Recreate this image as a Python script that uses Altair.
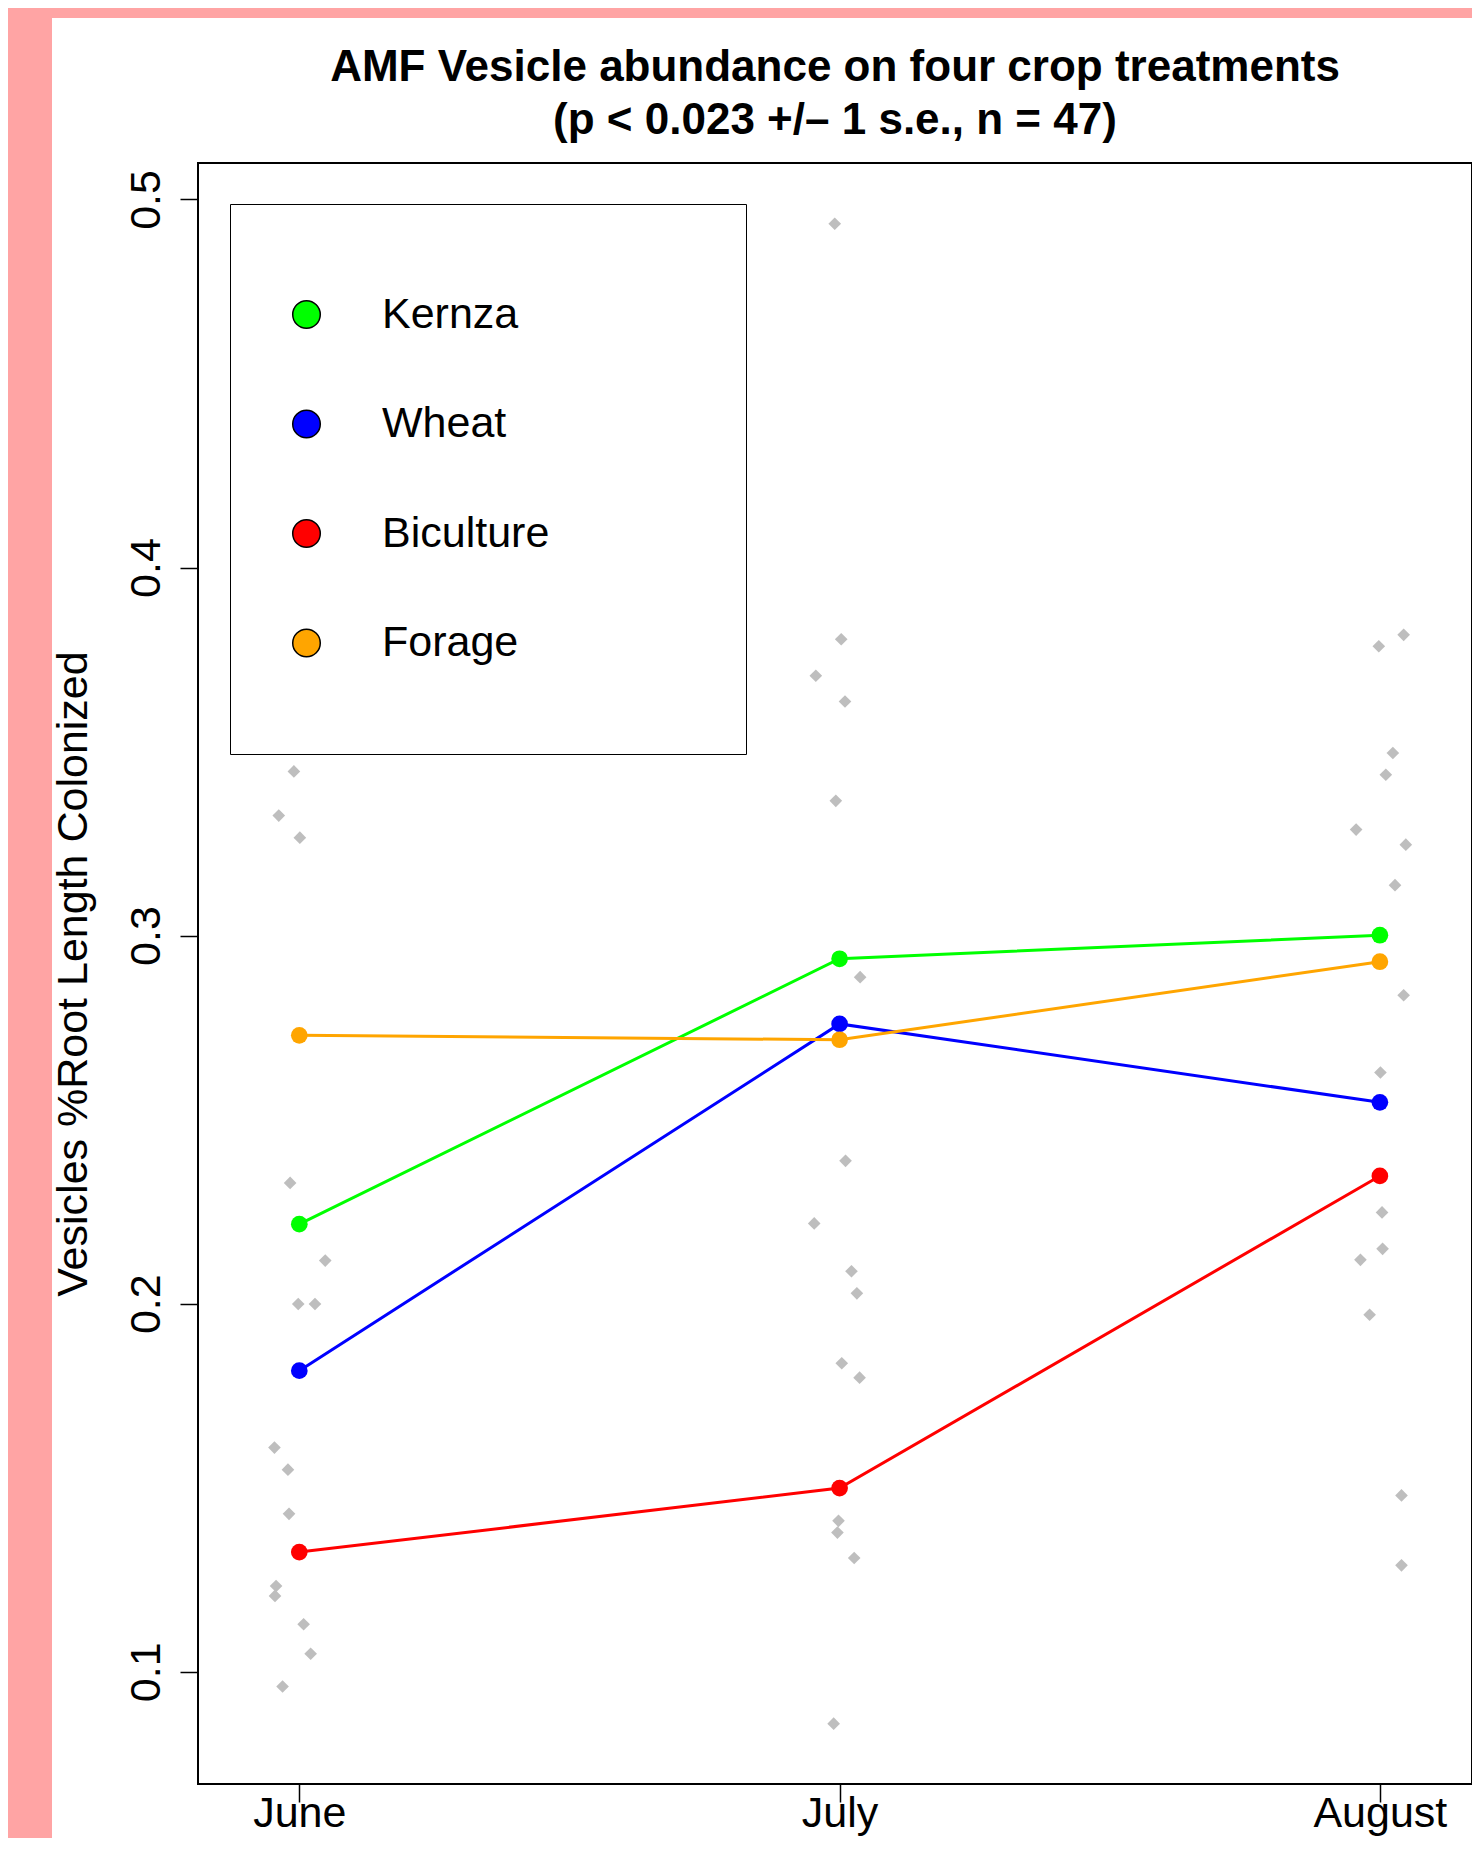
import json
import altair as alt
import pandas as pd

# ---------------- data ----------------
months = ["June", "July", "August"]
treatments = ["Kernza", "Wheat", "Biculture", "Forage"]
colors = ["#00FF00", "#0000FF", "#FF0000", "#FFA500"]

kernza_means = [0.2216, 0.2937, 0.3001]
wheat_means = [0.1818, 0.2760, 0.2547]
biculture_means = [0.1325, 0.1499, 0.2347]
forage_means = [0.2729, 0.2717, 0.2929]

june_vals = [0.3446, 0.3326, 0.3266, 0.2328, 0.2117, 0.1999, 0.1999, 0.1609,
             0.1549, 0.1429, 0.1233, 0.1206, 0.1129, 0.1049, 0.0960]
june_jitter = [-0.010, -0.038, 0.001, -0.017, 0.048, -0.002, 0.029, -0.046,
               -0.021, -0.019, -0.043, -0.045, 0.008, 0.021, -0.031]

july_vals = [0.4934, 0.3805, 0.3706, 0.3636, 0.3366, 0.2887, 0.2388, 0.2218,
             0.2088, 0.2028, 0.1838, 0.1799, 0.1410, 0.1378, 0.1309, 0.0859]
july_jitter = [-0.009, 0.003, -0.044, 0.010, -0.007, 0.038, 0.011, -0.047,
               0.022, 0.032, 0.004, 0.037, -0.002, -0.004, 0.027, -0.011]

aug_vals = [0.3817, 0.3786, 0.3496, 0.3437, 0.3288, 0.3247, 0.3137, 0.2838,
            0.2628, 0.2248, 0.2149, 0.2119, 0.1970, 0.1479, 0.1289]
aug_jitter = [0.044, -0.002, 0.024, 0.011, -0.044, 0.048, 0.028, 0.044,
              0.001, 0.004, 0.005, -0.036, -0.019, 0.040, 0.040]

y_ticks = [0.1, 0.2, 0.3, 0.4, 0.5]

title_lines = ["AMF Vesicle abundance on four crop treatments",
               "(p < 0.023 +/\u2013 1 s.e., n = 47)"]
y_title = "Vesicles %Root Length Colonized"

# ---------------- tables ----------------
mean_lists = [kernza_means, wheat_means, biculture_means, forage_means]
means_rows = []
for t, c, vals in zip(treatments, colors, mean_lists):
    for i, v in enumerate(vals):
        means_rows.append({"treatment": t, "col": c, "x": i + 1, "y": v})
means_df = pd.DataFrame(means_rows)

raw_rows = []
for i, (vals, jit) in enumerate([(june_vals, june_jitter),
                                 (july_vals, july_jitter),
                                 (aug_vals, aug_jitter)]):
    for v, j in zip(vals, jit):
        raw_rows.append({"x": i + 1 + j, "y": v})
raw_df = pd.DataFrame(raw_rows)

# ---------------- styling ----------------
W, H = 1274, 1621
FONT = "Liberation Sans"
FS = 43

x_scale = alt.Scale(domain=[0.8125, 3.1705], nice=False, zero=False)
y_scale = alt.Scale(domain=[0.0695, 0.5099], nice=False, zero=False)

x_axis = alt.Axis(values=[1, 2, 3],
                  labelExpr=f"{json.dumps(months)}[datum.value - 1]",
                  title=None, domain=False, grid=False,
                  tickSize=18, tickColor="black", tickWidth=1.5,
                  labelFont=FONT, labelFontSize=FS, labelColor="black",
                  labelBaseline="alphabetic", labelPadding=24,
                  labelFlush=False, labelOverlap=False, zindex=1)

y_axis = alt.Axis(values=y_ticks, format=".1f",
                  title=y_title, titleFont=FONT, titleFontSize=FS,
                  titleFontWeight="normal", titleColor="black",
                  titleAngle=270, titleX=-112, titleY=H / 2,
                  titleAlign="center", titleBaseline="alphabetic",
                  domain=False, grid=False,
                  tickSize=18, tickColor="black", tickWidth=1.5,
                  labelFont=FONT, labelFontSize=FS, labelColor="black",
                  labelAngle=270, labelAlign="center",
                  labelBaseline="alphabetic", labelPadding=21,
                  labelFlush=False, labelOverlap=False, zindex=1)

x_enc = alt.X("x:Q", scale=x_scale, axis=x_axis)
y_enc = alt.Y("y:Q", scale=y_scale, axis=y_axis)

# white panel behind the plot (the reference sits on a pink page)
panel = alt.Chart(pd.DataFrame({"k": [0]})).mark_rect(color="white").encode(
    x=alt.value(-146), x2=alt.value(W + 10),
    y=alt.value(-145), y2=alt.value(H + 60),
)

raw = alt.Chart(raw_df).mark_point(
    shape="diamond", filled=True, size=160, color="#BEBEBE", opacity=1
).encode(x=x_enc, y=y_enc)

lines = alt.Chart(means_df).mark_line(strokeWidth=3).encode(
    x=x_enc, y=y_enc,
    detail="treatment:N",
    stroke=alt.Stroke("col:N", scale=None),
)

legend = alt.Legend(
    title="MMMM", titleOrient="right", titleColor="white",
    titleFont=FONT, titleFontSize=30, titlePadding=8,
    orient="none", legendX=32, legendY=41, padding=89,
    fillColor="white", strokeColor="black", cornerRadius=0,
    symbolType="circle", symbolSize=760, symbolStrokeColor="black",
    symbolStrokeWidth=1.5, symbolOpacity=1, symbolOffset=-34,
    labelFont=FONT, labelFontSize=FS, labelColor="black",
    labelOffset=54, labelLimit=600, rowPadding=65.5,
    zindex=1,
)

dots = alt.Chart(means_df).mark_point(
    shape="circle", filled=True, size=279, opacity=1, strokeWidth=0
).encode(
    x=x_enc, y=y_enc,
    fill=alt.Fill("treatment:N",
                  scale=alt.Scale(domain=treatments, range=colors),
                  legend=legend),
)

frame = alt.Chart(pd.DataFrame({"k": [0]})).mark_rect(
    fillOpacity=0, stroke="black", strokeWidth=2
).encode(
    x=alt.value(0), x2=alt.value("width"),
    y=alt.value(0), y2=alt.value("height"),
)

chart = alt.layer(panel, raw, lines, dots, frame).properties(
    width=W, height=H,
    autosize=alt.AutoSizeParams(type="none"),
    padding={"left": 190, "top": 155, "right": 0, "bottom": 54},
    background="#FFA4A4",
    title=alt.TitleParams(
        text=title_lines, font=FONT, fontSize=44, fontWeight="bold",
        color="black", anchor="middle", frame="group", offset=-160,
        lineHeight=53.5, baseline="alphabetic", zindex=1,
    ),
).configure_view(strokeWidth=0)

chart.save("out.html", embed_options={"renderer": "svg", "actions": False})
